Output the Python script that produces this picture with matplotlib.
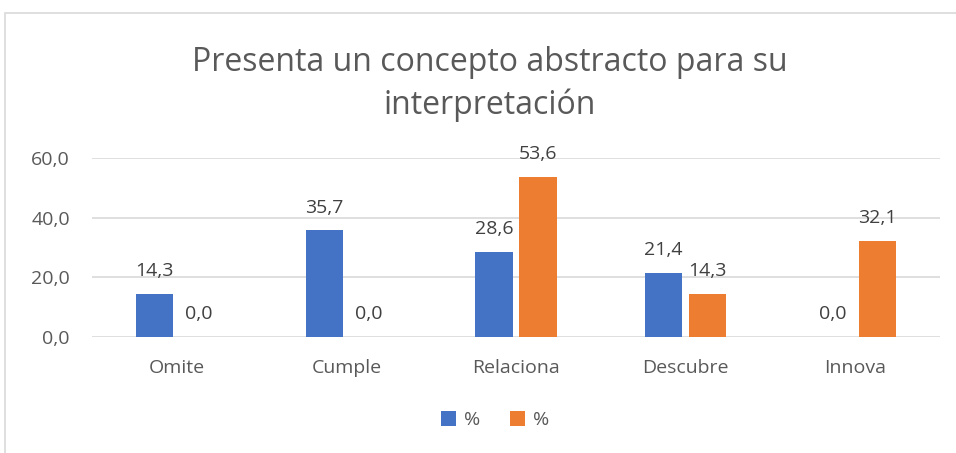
import matplotlib.pyplot as plt
import numpy as np

categories = ["Omite", "Cumple", "Relaciona", "Descubre", "Innova"]
serie1 = [14.3, 35.7, 28.6, 21.4, 0.0]
serie2 = [0.0, 0.0, 53.6, 14.3, 32.1]
labels = ["%", "%"]
yticks = [0, 20, 40, 60]

plt.rcParams['font.family'] = ['Open Sans', 'DejaVu Sans']
gray = "#595959"

fig = plt.figure(figsize=(9.56, 4.53), dpi=100)
# chart frame
fig.patches.append(plt.Rectangle((5 / 956, -0.1), 1.2, 1 - 13 / 453 + 0.1,
                                 transform=fig.transFigure, fill=False,
                                 edgecolor="#d9d9d9", linewidth=1.2))
ax = fig.add_axes([92 / 956, 1 - 337 / 453, 848 / 956, (337 - 158) / 453])

x = np.arange(len(categories))
w = 0.22
off = 0.13
b1 = ax.bar(x - off, serie1, w, color="#4472C4", label=labels[0], zorder=3)
b2 = ax.bar(x + off, serie2, w, color="#ED7D31", label=labels[1], zorder=3)

for bars in (b1, b2):
    for r in bars:
        v = r.get_height()
        ax.annotate(f"{v:.1f}".replace(".", ","),
                    (r.get_x() + r.get_width() / 2, v),
                    xytext=(0, 10), textcoords="offset points",
                    ha="center", va="bottom", fontsize=14, color="#404040")

ax.set_xlim(-0.5, len(categories) - 0.5)
ax.set_ylim(0, 60)
ax.set_yticks(yticks)
ax.set_yticklabels([f"{t:.1f}".replace(".", ",") for t in yticks])
ax.set_xticks(x)
ax.set_xticklabels(categories)
ax.tick_params(length=0, labelsize=14, colors=gray, pad=16)
ax.tick_params(axis="y", pad=16)
ax.grid(axis="y", color="#d9d9d9", linewidth=1.2, zorder=0)
for s in ax.spines.values():
    s.set_visible(False)

fig.text(490 / 956, 1 - 84 / 453,
         "Presenta un concepto abstracto para su\ninterpretación",
         ha="center", va="center", fontsize=23, color=gray, linespacing=1.4)

fig.legend(loc="center", bbox_to_anchor=(495 / 956, 1 - 420 / 453),
           ncol=2, frameon=False, fontsize=14, labelcolor=gray,
           handlelength=0.8, handleheight=0.8, handletextpad=0.4,
           columnspacing=1.5)

fig.savefig("out.png", dpi=100)
